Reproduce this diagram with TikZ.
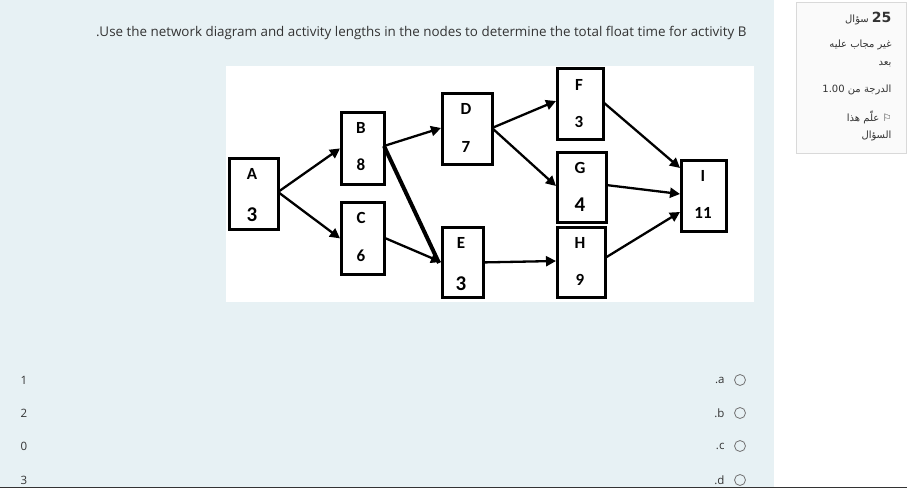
\documentclass[tikz,border=0pt]{standalone}
\usepackage{fontspec}
\setmainfont{Open Sans}
\newfontfamily\carl{Carlito}
\newfontfamily\arabicfont[Script=Arabic]{DejaVu Sans}
\TeXXeTstate=1
\usetikzlibrary{arrows.meta}
\definecolor{pagebg}{HTML}{E7F1F4}
\definecolor{txt}{HTML}{333333}
\tikzset{
 act/.style={draw, line width=2.8pt, fill=white, inner sep=0pt, anchor=north west},
 lbl/.style={font=\carl\bfseries\fontsize{17}{17}\selectfont},
 big/.style={font=\carl\bfseries\fontsize{21}{21}\selectfont},
 edge/.style={line width=2.3pt, -{Triangle[length=10pt,width=10pt]}},
 opt/.style={font=\fontsize{11.5}{13}\selectfont, text=txt},
 ar/.style={font=\arabicfont\fontsize{10}{12}\selectfont, text=txt, anchor=east},
 radio/.style={draw=black!55, circle, line width=0.8pt, minimum size=11pt, inner sep=0}
}
\begin{document}
\begin{tikzpicture}[x=1pt,y=-1pt]
\useasboundingbox (0,0) rectangle (907,489);
\fill[white] (0,0) rectangle (907,489);
\fill[pagebg] (0,0) rectangle (774,487);
\draw[black!80, line width=1pt] (0,487.5) -- (907,487.5);
\node[draw=black!15, fill=black!2, minimum width=110, minimum height=151, anchor=north west, inner sep=0] (side) at (796,2) {};
\node[anchor=west, text=txt, font=\fontsize{13.4}{15}\selectfont, inner sep=0] (q) at (96,33) {.Use the network diagram and activity lengths in the nodes to determine the total float time for activity B};
\fill[white] (226,66) rectangle (754,302);
% activity boxes
\node[act, minimum width=49, minimum height=71] (A) at (228,157) {};
\node[act, minimum width=43, minimum height=72] (B) at (340,111) {};
\node[act, minimum width=43, minimum height=72] (C) at (340,201) {};
\node[act, minimum width=50, minimum height=71] (D) at (441,92) {};
\node[act, minimum width=41, minimum height=70] (E) at (441,226) {};
\node[act, minimum width=46, minimum height=71] (F) at (556,67) {};
\node[act, minimum width=49, minimum height=70] (G) at (556,151) {};
\node[act, minimum width=48, minimum height=70] (H) at (556,226) {};
\node[act, minimum width=45, minimum height=71] (I) at (680,159) {};
% labels
\node[lbl] (Al) at (252,174) {A}; \node[big] (An) at (252,215) {3};
\node[lbl] (Bl) at (361,128) {B}; \node[lbl] (Bn) at (361,165) {8};
\node[lbl] (Cl) at (361,218) {C}; \node[lbl] (Cn) at (361,256) {6};
\node[lbl] (Dl) at (466,109) {D}; \node[lbl] (Dn) at (466,147) {7};
\node[lbl] (El) at (461,243) {E}; \node[big] (En) at (461,284) {3};
\node[lbl] (Fl) at (579,85) {F}; \node[lbl] (Fn) at (579,122) {3};
\node[lbl] (Gl) at (580,168) {G}; \node[big] (Gn) at (580,205) {4};
\node[lbl] (Hl) at (580,243) {H}; \node[lbl] (Hn) at (580,280) {9};
\node[lbl] (Il) at (703,176) {I}; \node[lbl] (In) at (703,213) {11};
% connectors
\coordinate (a1) at (278,192);
\draw[edge] (a1) -- (B.west);
\draw[edge] (a1) -- (C.west);
\coordinate (b1) at (384,146);
\draw[edge] (b1) -- (441,128);
\draw[line width=4pt] (b1) -- (439,263);
\draw[edge] (C.east) -- (441,262);
\coordinate (d1) at (492,128);
\draw[edge] (d1) -- (556,101);
\draw[edge] (d1) -- (556,186);
\draw[edge] (E.east) -- (556,261);
\draw[edge] (603,102) -- (680,168);
\draw[edge] (606,185) -- (680,194);
\draw[edge] (605,258) -- (680,212);
% options
\foreach \y/\n/\l in {380/1/a,413/2/b,446/0/c,480/3/d}{
 \node[opt, anchor=center] (n\n\l) at (24,\y) {\n};
 \node[opt, anchor=east] (o\l) at (728,\y) {.\l};
 \node[radio] (r\l) at (740,\y) {};
}
% side panel
\node[ar] (s1) at (895,19) {\beginR سؤال \endR\ \textbf{\fontsize{14}{14}\selectfont 25}};
\node[ar] (s2) at (895,45) {\beginR غير مجاب عليه\endR};
\node[ar] (s3) at (895,64) {\beginR بعد\endR};
\node[ar] (s4) at (895,90) {\beginR الدرجة من \beginL 1.00\endL\endR};
\node[ar] (s5) at (895,117) {\beginR ⚐ علّم هذا\endR};
\node[ar] (s6) at (895,136) {\beginR السؤال\endR};
\end{tikzpicture}
\end{document}
